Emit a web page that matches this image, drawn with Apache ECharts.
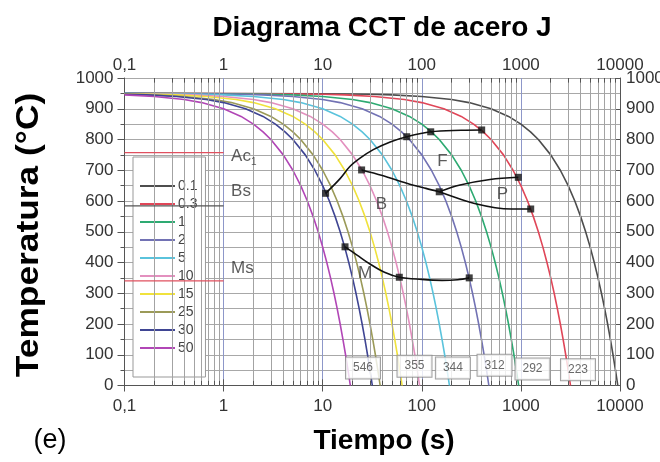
<!DOCTYPE html>
<html><head><meta charset="utf-8">
<script src="https://cdn.jsdelivr.net/npm/echarts@6/dist/echarts.min.js"></script>
<style>html,body{margin:0;padding:0;background:#fff}#c{width:660px;height:462px}</style>
</head><body><div id="c"></div>
<script>
// ---- data ----
const rateLabels = ['0.1', '0.3', '1', '2', '5', '10', '15', '25', '30', '50'];
const xTickLabels = ['0,1', '1', '10', '100', '1000', '10000'];

// cooling curves [time s, temperature °C]
const curve_0_1 = [[0.1,950],[10,949],[30,947],[50,945],[100,940],[200,930],[300,920],[500,900],[750,875],[1000,850],[1250,825],[1500,800],[2000,750],[2500,700],[3000,650],[3500,600],[4000,550],[4500,500],[5000,450],[5500,400],[6000,350],[6500,300],[7000,250],[7500,200],[8000,150],[8500,100],[9000,50],[9500,0]];
const curve_0_3 = [[0.1,950],[3.33,949],[10,947],[16.7,945],[33.3,940],[66.7,930],[100,920],[167,900],[250,875],[333,850],[417,825],[500,800],[667,750],[833,700],[1000,650],[1167,600],[1333,550],[1500,500],[1667,450],[1833,400],[2000,350],[2167,300],[2333,250],[2500,200],[2667,150],[2833,100],[3000,50],[3167,0]];
const curve_1   = [[0.1,950],[1,949],[3,947],[5,945],[10,940],[20,930],[30,920],[50,900],[75,875],[100,850],[125,825],[150,800],[200,750],[250,700],[300,650],[350,600],[400,550],[450,500],[500,450],[550,400],[600,350],[650,300],[700,250],[750,200],[800,150],[850,100],[900,50],[950,0]];
const curve_2   = [[0.1,950],[0.5,949],[1.5,947],[2.5,945],[5,940],[10,930],[15,920],[25,900],[37.5,875],[50,850],[62.5,825],[75,800],[100,750],[125,700],[150,650],[175,600],[200,550],[225,500],[250,450],[275,400],[300,350],[325,300],[350,250],[375,200],[400,150],[425,100],[450,50],[475,0]];
const curve_5   = [[0.1,949.5],[0.2,949],[0.6,947],[1,945],[2,940],[4,930],[6,920],[10,900],[15,875],[20,850],[25,825],[30,800],[40,750],[50,700],[60,650],[70,600],[80,550],[90,500],[100,450],[110,400],[120,350],[130,300],[140,250],[150,200],[160,150],[170,100],[180,50],[190,0]];
const curve_10  = [[0.1,949],[0.3,947],[0.5,945],[1,940],[2,930],[3,920],[5,900],[7.5,875],[10,850],[12.5,825],[15,800],[20,750],[25,700],[30,650],[35,600],[40,550],[45,500],[50,450],[55,400],[60,350],[65,300],[70,250],[75,200],[80,150],[85,100],[90,50],[95,0]];
const curve_15  = [[0.1,948.5],[0.2,947],[0.333,945],[0.667,940],[1.333,930],[2,920],[3.333,900],[5,875],[6.667,850],[8.333,825],[10,800],[13.33,750],[16.67,700],[20,650],[23.33,600],[26.67,550],[30,500],[33.33,450],[36.67,400],[40,350],[43.33,300],[46.67,250],[50,200],[53.33,150],[56.67,100],[60,50],[63.33,0]];
const curve_25  = [[0.1,947.5],[0.2,945],[0.4,940],[0.8,930],[1.2,920],[2,900],[3,875],[4,850],[5,825],[6,800],[8,750],[10,700],[12,650],[14,600],[16,550],[18,500],[20,450],[22,400],[24,350],[26,300],[28,250],[30,200],[32,150],[34,100],[36,50],[38,0]];
const curve_30  = [[0.1,947],[0.167,945],[0.333,940],[0.667,930],[1,920],[1.667,900],[2.5,875],[3.333,850],[4.167,825],[5,800],[6.667,750],[8.333,700],[10,650],[11.67,600],[13.33,550],[15,500],[16.67,450],[18.33,400],[20,350],[21.67,300],[23.33,250],[25,200],[26.67,150],[28.33,100],[30,50],[31.67,0]];
const curve_50  = [[0.1,945],[0.2,940],[0.4,930],[0.6,920],[1,900],[1.5,875],[2,850],[2.5,825],[3,800],[4,750],[5,700],[6,650],[7,600],[8,550],[9,500],[10,450],[11,400],[12,350],[13,300],[14,250],[15,200],[16,150],[17,100],[18,50],[19,0]];
const curves = [curve_0_1, curve_0_3, curve_1, curve_2, curve_5, curve_10, curve_15, curve_25, curve_30, curve_50];

// transformation lines
const ferriteStart = [[10.7,625],[14.9,672],[18.8,712],[24,740],[32.4,767],[48,792],[70.5,809],[123,825],[250,830],[402,831]];
const bainiteLine  = [[24.7,701],[40,683],[70.5,658],[110,641],[150,630]];
const pearliteUp   = [[150,630],[243,652],[488,670],[942,677]];
const pearliteLow  = [[150,630],[250,605],[358,590],[550,578],[800,574],[1256,574]];
const martensite   = [[16.8,451],[22,425],[30,395],[42,368],[59.3,352],[100,345],[160,342],[230,344],[301,350]];
const markerPts    = [[10.7,625],[70.5,809],[123,825],[402,831],[24.7,701],[150,630],[942,677],[1256,574],[16.8,451],[59.3,352],[301,350]];

// critical temperatures (drawn from t=0.1 to t=1)
const refNames = ['Ac1', 'Bs', 'Ms'];
const refTemps = [757, 584, 340];

// region labels
const regionNames = ['F', 'P', 'B', 'M'];
const regionPts   = [[162,730],[651,623],[39.2,590],[26.7,366]];
const refLabelPts = [[1.19,746],[1.19,632],[1.19,382]];

// hardness values
const hardness      = ['546', '355', '344', '312', '292', '223'];
const hardnessTimes = [25.5, 84.4, 206, 542, 1309, 3767];
const hardnessTemps = [57, 63, 57, 66, 54, 51];

// ---- styles ----
const rateColors = ['#4d4d4d','#e04658','#2eaa72','#7272b4','#5ac3dc','#e390bf','#f0e23c','#9b9a58','#3f4593','#b146b6'];
const FONT = '"Liberation Sans", Arial, sans-serif';

const minorX = [];
[0.1, 1, 10, 100, 1000].forEach(d => { for (let k = 2; k <= 9; k++) minorX.push(+(d * k).toPrecision(3)); });
const decades = [0.1, 1, 10, 100, 1000, 10000];

const chart = echarts.init(document.getElementById('c'), null, { renderer: 'canvas' });

const fmtX = v => { const i = decades.findIndex(d => Math.abs(d - v) / d < 1e-6); return i >= 0 ? xTickLabels[i] : ''; };
const fmtY = v => String(v);

const series = [];
// minor grid + minor ticks
series.push({
  type: 'line', data: [], z: 1, silent: true,
  markLine: {
    silent: true, symbol: ['none', 'none'], animation: false, label: { show: false },
    lineStyle: { color: '#a3a3a3', width: 1, type: 'solid' },
    emphasis: { disabled: true },
    data: minorX.map(v => ({ xAxis: v }))
  }
});
series.push({
  type: 'line', data: [], z: 4, silent: true,
  markLine: {
    silent: true, symbol: ['none', 'none'], animation: false, label: { show: false },
    lineStyle: { color: '#555', width: 1, type: 'solid' },
    emphasis: { disabled: true },
    data: [].concat(
      minorX.map(v => [{ coord: [v, 0] }, { coord: [v, 15] }]),
      minorX.map(v => [{ coord: [v, 1000] }, { coord: [v, 985] }]),
      decades.map(v => [{ coord: [v, 0] }, { coord: [v, 20] }])
    )
  }
});
// cooling curves
curves.forEach((c, i) => series.push({
  name: rateLabels[i], type: 'line', data: c, smooth: false,
  symbol: 'none', z: 3, lineStyle: { color: rateColors[i], width: 1.6 }, itemStyle: { color: rateColors[i] }
}));
// reference horizontal lines
refTemps.forEach((t, i) => series.push({
  name: refNames[i], type: 'line', data: [[0.1, t], [1, t]], symbol: 'none', z: 6,
  lineStyle: { color: i === 1 ? '#555' : '#e0505f', width: 1.3 }
}));
// transformation lines
[ferriteStart, bainiteLine, pearliteUp, pearliteLow, martensite].forEach(d => series.push({
  type: 'line', data: d, smooth: 0.35, symbol: 'none', z: 7,
  lineStyle: { color: '#111', width: 1.6 }
}));
series.push({
  type: 'scatter', data: markerPts, symbol: 'rect', symbolSize: 7, z: 8,
  itemStyle: { color: '#111' }
});
// region labels
series.push({
  type: 'scatter', symbolSize: 0, z: 8,
  data: regionPts.map((p, i) => ({ value: p, name: regionNames[i] })),
  label: { show: true, position: 'inside', formatter: '{b}', fontFamily: FONT, fontSize: 17, color: '#333' }
});
series.push({
  type: 'scatter', symbolSize: 0, z: 8,
  data: refLabelPts.map((p, i) => ({ value: p, name: refNames[i] })),
  label: {
    show: true, position: 'inside', align: 'left', fontFamily: FONT, fontSize: 17, color: '#333',
    formatter: p => p.name === 'Ac1' ? '{a|Ac}{s|1}' : p.name,
    rich: { a: { fontFamily: FONT, fontSize: 17, color: '#333', lineHeight: 20 },
            s: { fontFamily: FONT, fontSize: 10, color: '#333', lineHeight: 20, padding: [12, 0, 0, 0] } }
  }
});
// hardness boxes
series.push({
  type: 'scatter', symbolSize: 0, z: 9,
  data: hardness.map((h, i) => ({ value: [hardnessTimes[i], hardnessTemps[i]], name: h })),
  label: {
    show: true, position: 'inside', formatter: '{b}', fontFamily: FONT, fontSize: 12, color: '#444',
    backgroundColor: '#fff', borderColor: '#8a8a8a', borderWidth: 1, padding: [5, 7, 4, 7]
  }
});

const option = {
  animation: false,
  backgroundColor: '#fff',
  textStyle: { fontFamily: FONT },
  grid: { left: 124.5, right: 40, top: 78, bottom: 76.5, containLabel: false, outerBoundsMode: 'none' },
  legend: {
    data: rateLabels, orient: 'vertical', left: 133, top: 157, selectedMode: false,
    padding: [22, 8, 22, 7], itemGap: 4, itemWidth: 35, itemHeight: 14,
    icon: 'path://M0,0H35V2H0Z', symbolKeepAspect: true,
    backgroundColor: '#fff', borderColor: '#999', borderWidth: 1, borderRadius: 0,
    textStyle: { fontFamily: FONT, fontSize: 14, color: '#444', padding: [0, 0, 0, -2] }
  },
  xAxis: [
    { type: 'log', logBase: 10, min: 0.1, max: 10000, position: 'bottom',
      axisLine: { lineStyle: { color: '#555', width: 1 } },
      axisTick: { show: true, length: 5, lineStyle: { color: '#555' } },
      axisLabel: { formatter: fmtX, fontFamily: FONT, fontSize: 17, color: '#333', margin: 12 },
      splitLine: { show: true, lineStyle: { color: '#8d97c9', width: 1 } } },
    { type: 'log', logBase: 10, min: 0.1, max: 10000, position: 'top',
      axisLine: { lineStyle: { color: '#555', width: 1 } },
      axisTick: { show: true, inside: true, length: 6, lineStyle: { color: '#555' } },
      axisLabel: { formatter: fmtX, fontFamily: FONT, fontSize: 17, color: '#333', margin: 4 },
      splitLine: { show: false } }
  ],
  yAxis: [
    { type: 'value', min: 0, max: 1000, interval: 100, position: 'left',
      axisLine: { show: true, lineStyle: { color: '#555', width: 1 } },
      axisTick: { show: true, length: 7, lineStyle: { color: '#555' } },
      minorTick: { show: true, splitNumber: 2, length: 4, lineStyle: { color: '#555' } },
      axisLabel: { formatter: fmtY, fontFamily: FONT, fontSize: 17, color: '#333', margin: 11 },
      splitLine: { show: true, lineStyle: { color: '#a8a8a8', width: 1 } },
      minorSplitLine: { show: true, lineStyle: { color: '#a8a8a8', width: 1 } } },
    { type: 'value', min: 0, max: 1000, interval: 100, position: 'right',
      axisLine: { show: true, lineStyle: { color: '#555', width: 1 } },
      axisTick: { show: true, inside: true, length: 5, lineStyle: { color: '#555' } },
      axisLabel: { formatter: fmtY, fontFamily: FONT, fontSize: 17, color: '#333', margin: 6 },
      splitLine: { show: false } }
  ],
  graphic: [
    { type: 'text', x: 382, y: 28, style: { text: 'Diagrama CCT de acero J', font: 'bold 28px ' + FONT, fill: '#000', align: 'center', verticalAlign: 'middle', textAlign: 'center', textVerticalAlign: 'middle' } },
    { type: 'text', x: 384, y: 441, style: { text: 'Tiempo (s)', font: 'bold 28px ' + FONT, fill: '#000', align: 'center', verticalAlign: 'middle', textAlign: 'center', textVerticalAlign: 'middle' } },
    { type: 'text', x: 50, y: 441, style: { text: '(e)', font: '27px ' + FONT, fill: '#000', align: 'center', verticalAlign: 'middle', textAlign: 'center', textVerticalAlign: 'middle' } },
    { type: 'text', x: 29, y: 235, rotation: Math.PI / 2, scaleX: 1.14, style: { text: 'Temperatura (°C)', font: 'bold 31px ' + FONT, fill: '#000', align: 'center', verticalAlign: 'middle', textAlign: 'center', textVerticalAlign: 'middle' } }
  ],
  series: series
};
chart.setOption(option);
</script>
</body></html>
